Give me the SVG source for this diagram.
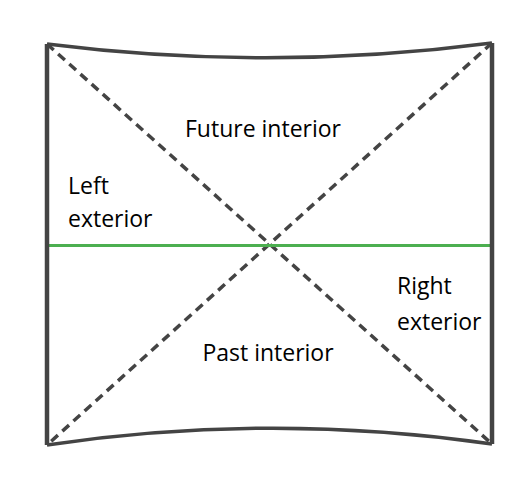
<svg xmlns="http://www.w3.org/2000/svg" width="527" height="486" viewBox="0 0 527 486">
<style>
.edge{fill:none;stroke:#444;stroke-width:3.5}
.side{fill:none;stroke:#444;stroke-width:4.5}
.diag{fill:none;stroke:#444;stroke-width:3.5;stroke-dasharray:9 6}
.hor{fill:none;stroke:#4caf50;stroke-width:3}
text{font-family:"Open Sans","Noto Sans",sans-serif;font-size:23px;fill:#000}
</style>
<rect width="527" height="486" fill="#fff"/>
<g id="connectors">
<line class="diag" x1="47" y1="44" x2="492" y2="444"/>
<line class="diag" x1="492" y1="43" x2="47" y2="445"/>
<line class="hor" x1="46" y1="245.5" x2="493" y2="245.5"/>
<path class="edge" d="M47 44 Q269.5 72 492 43"/>
<path class="edge" d="M47 445 Q269.5 412 492 444"/>
<line class="side" x1="47" y1="44" x2="47" y2="445"/>
<line class="side" x1="492" y1="43" x2="492" y2="444"/>
</g>
<g id="future"><text x="263" y="137" text-anchor="middle">Future interior</text></g>
<g id="left"><text x="68" y="194">Left</text><text x="68" y="227">exterior</text></g>
<g id="right"><text x="397" y="294">Right</text><text x="397" y="330">exterior</text></g>
<g id="past"><text x="268" y="361" text-anchor="middle">Past interior</text></g>
</svg>
